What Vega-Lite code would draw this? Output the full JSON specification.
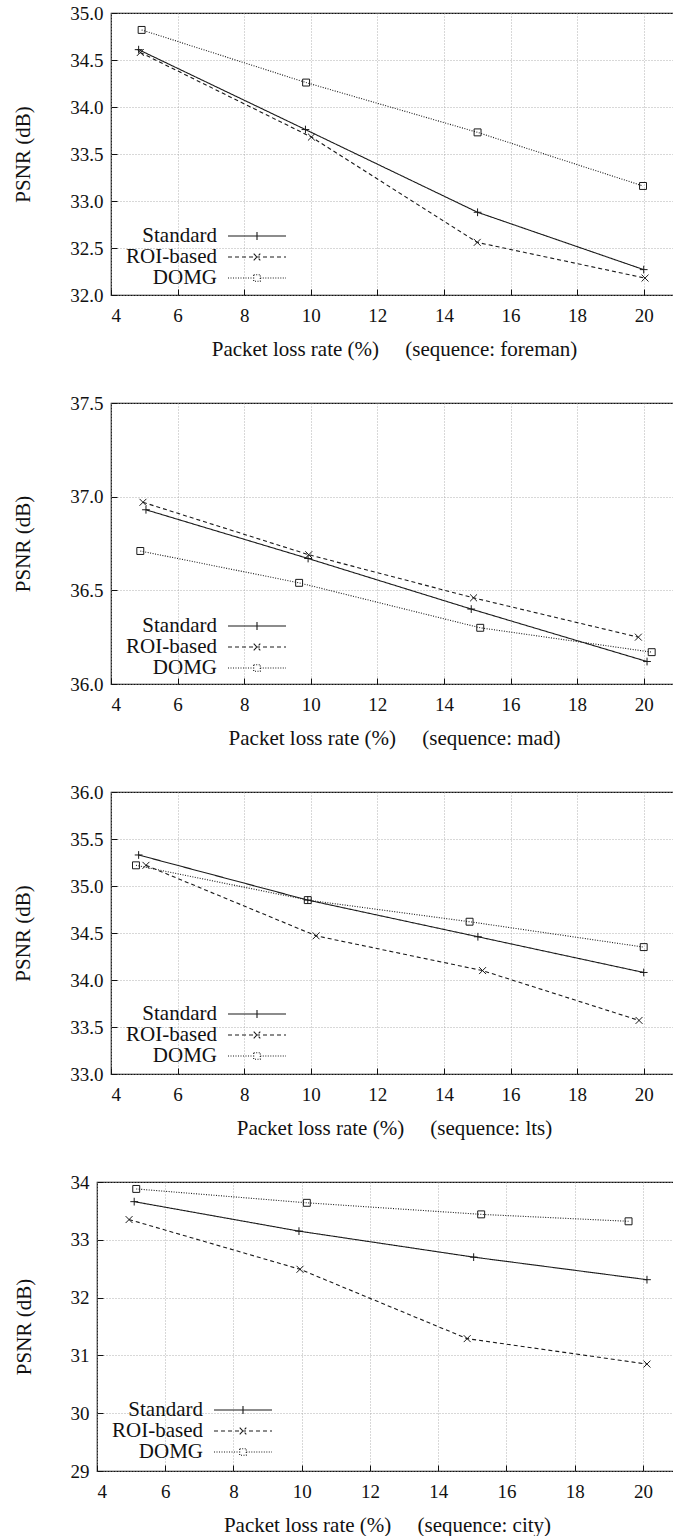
{
  "$schema": "https://vega.github.io/schema/vega-lite/v6.json",
  "padding": {"left": 11, "top": 3, "right": 0, "bottom": 0},
  "background": "white",
  "columns": 2,
  "align": "none",
  "bounds": "full",
  "spacing": {"row": 33, "column": 0},
  "config": {
    "font": "Liberation Serif",
    "view": {"stroke": "#111", "strokeWidth": 1.2},
    "axis": {
      "labelFont": "Liberation Serif", "labelFontSize": 19, "labelColor": "#111",
      "titleFont": "Liberation Serif", "titleFontSize": 21, "titleFontWeight": "normal", "titleColor": "#111",
      "grid": true, "gridColor": "#a8a8a8", "gridDash": [1, 2], "gridWidth": 0.9,
      "domain": false, "ticks": true, "tickSize": -6, "tickColor": "#111", "tickWidth": 1
    },
    "axisX": {"labelPadding": 17, "titlePadding": 13},
    "axisY": {"labelPadding": 14, "titlePadding": 36},
    "legend": {
      "title": null, "orient": "none", "padding": 0,
      "labelFont": "Liberation Serif", "labelFontSize": 21, "labelColor": "#111",
      "labelAlign": "right", "labelOffset": -51, "labelLimit": 200,
      "symbolSize": 400, "symbolOffset": 18, "symbolStrokeWidth": 1.1, "symbolStrokeColor": "#1a1a1a",
      "symbolFillColor": "transparent", "rowPadding": -1
    }
  },
  "datasets": {
    "all": [
      {"seq": "foreman", "method": "Standard", "loss": 4.83, "psnr": 34.61},
      {"seq": "foreman", "method": "Standard", "loss": 9.84, "psnr": 33.76},
      {"seq": "foreman", "method": "Standard", "loss": 15.01, "psnr": 32.88},
      {"seq": "foreman", "method": "Standard", "loss": 20.0, "psnr": 32.27},
      {"seq": "foreman", "method": "ROI-based", "loss": 4.88, "psnr": 34.58},
      {"seq": "foreman", "method": "ROI-based", "loss": 10.02, "psnr": 33.68},
      {"seq": "foreman", "method": "ROI-based", "loss": 15.0, "psnr": 32.56},
      {"seq": "foreman", "method": "ROI-based", "loss": 20.04, "psnr": 32.18},
      {"seq": "foreman", "method": "DOMG", "loss": 4.92, "psnr": 34.82},
      {"seq": "foreman", "method": "DOMG", "loss": 9.86, "psnr": 34.26},
      {"seq": "foreman", "method": "DOMG", "loss": 15.01, "psnr": 33.73},
      {"seq": "foreman", "method": "DOMG", "loss": 19.98, "psnr": 33.16},
      {"seq": "mad", "method": "Standard", "loss": 5.05, "psnr": 36.93},
      {"seq": "mad", "method": "Standard", "loss": 9.92, "psnr": 36.67},
      {"seq": "mad", "method": "Standard", "loss": 14.82, "psnr": 36.40},
      {"seq": "mad", "method": "Standard", "loss": 20.1, "psnr": 36.12},
      {"seq": "mad", "method": "ROI-based", "loss": 4.96, "psnr": 36.97},
      {"seq": "mad", "method": "ROI-based", "loss": 9.94, "psnr": 36.69},
      {"seq": "mad", "method": "ROI-based", "loss": 14.89, "psnr": 36.46},
      {"seq": "mad", "method": "ROI-based", "loss": 19.84, "psnr": 36.25},
      {"seq": "mad", "method": "DOMG", "loss": 4.88, "psnr": 36.71},
      {"seq": "mad", "method": "DOMG", "loss": 9.65, "psnr": 36.54},
      {"seq": "mad", "method": "DOMG", "loss": 15.09, "psnr": 36.30},
      {"seq": "mad", "method": "DOMG", "loss": 20.24, "psnr": 36.17},
      {"seq": "lts", "method": "Standard", "loss": 4.83, "psnr": 35.33},
      {"seq": "lts", "method": "Standard", "loss": 9.91, "psnr": 34.85},
      {"seq": "lts", "method": "Standard", "loss": 15.02, "psnr": 34.46},
      {"seq": "lts", "method": "Standard", "loss": 20.0, "psnr": 34.08},
      {"seq": "lts", "method": "ROI-based", "loss": 5.05, "psnr": 35.22},
      {"seq": "lts", "method": "ROI-based", "loss": 10.16, "psnr": 34.47},
      {"seq": "lts", "method": "ROI-based", "loss": 15.16, "psnr": 34.10},
      {"seq": "lts", "method": "ROI-based", "loss": 19.86, "psnr": 33.57},
      {"seq": "lts", "method": "DOMG", "loss": 4.75, "psnr": 35.22},
      {"seq": "lts", "method": "DOMG", "loss": 9.91, "psnr": 34.85},
      {"seq": "lts", "method": "DOMG", "loss": 14.77, "psnr": 34.62},
      {"seq": "lts", "method": "DOMG", "loss": 20.0, "psnr": 34.35},
      {"seq": "city", "method": "Standard", "loss": 5.09, "psnr": 33.66},
      {"seq": "city", "method": "Standard", "loss": 9.92, "psnr": 33.15},
      {"seq": "city", "method": "Standard", "loss": 15.04, "psnr": 32.70},
      {"seq": "city", "method": "Standard", "loss": 20.12, "psnr": 32.31},
      {"seq": "city", "method": "ROI-based", "loss": 4.94, "psnr": 33.35},
      {"seq": "city", "method": "ROI-based", "loss": 9.95, "psnr": 32.49},
      {"seq": "city", "method": "ROI-based", "loss": 14.85, "psnr": 31.29},
      {"seq": "city", "method": "ROI-based", "loss": 20.12, "psnr": 30.85},
      {"seq": "city", "method": "DOMG", "loss": 5.15, "psnr": 33.88},
      {"seq": "city", "method": "DOMG", "loss": 10.15, "psnr": 33.64},
      {"seq": "city", "method": "DOMG", "loss": 15.26, "psnr": 33.44},
      {"seq": "city", "method": "DOMG", "loss": 19.58, "psnr": 33.32}
    ]
  },
  "concat": [
    {"width": 1, "height": 1, "data": {"values": []}, "mark": "point", "view": {"stroke": null}},
    {
      "width": 566, "height": 282,
      "data": {"name": "all"},
      "transform": [{"filter": "datum.seq === 'foreman'"}],
      "encoding": {
        "x": {"field": "loss", "type": "quantitative", "scale": {"domain": [4, 21], "nice": false, "zero": false},
              "axis": {"values": [4, 6, 8, 10, 12, 14, 16, 18, 20], "format": "d", "title": "Packet loss rate (%)\u00a0\u00a0\u00a0\u00a0\u00a0(sequence: foreman)"}},
        "y": {"field": "psnr", "type": "quantitative", "scale": {"domain": [32, 35], "nice": false, "zero": false},
              "axis": {"values": [32, 32.5, 33, 33.5, 34, 34.5, 35], "format": ".1f", "title": "PSNR (dB)"}}
      },
      "layer": [
        {"mark": {"type": "line", "color": "#1a1a1a", "strokeWidth": 1.1},
         "encoding": {"strokeDash": {"field": "method", "type": "nominal",
           "scale": {"domain": ["Standard", "ROI-based", "DOMG"], "range": [[1, 0], [4, 3], [1, 1.5]]},
           "legend": {"legendX": 117, "legendY": 212,
             "encode": {"symbols": {"update": {"shape": {"signal": "datum.value === 'Standard' ? 'M-2.9,0H2.9M0,-0.4V0.4' : datum.value === 'ROI-based' ? 'M-2.9,0H2.9M-0.33,-0.33L0.33,0.33M-0.33,0.33L0.33,-0.33' : 'M-2.9,0H-0.33M0.33,0H2.9M-0.33,-0.33H0.33V0.33H-0.33Z'"}}}}}}}},
        {"transform": [{"filter": "datum.method === 'Standard'"}],
         "mark": {"type": "point", "shape": "M-1,0H1M0,-1V1", "filled": false, "color": "#1a1a1a", "strokeWidth": 1, "size": 60, "opacity": 1}},
        {"transform": [{"filter": "datum.method === 'ROI-based'"}],
         "mark": {"type": "point", "shape": "M-1,-1L1,1M-1,1L1,-1", "filled": false, "color": "#1a1a1a", "strokeWidth": 1, "size": 48, "opacity": 1}},
        {"transform": [{"filter": "datum.method === 'DOMG'"}],
         "mark": {"type": "point", "shape": "square", "filled": false, "color": "#1a1a1a", "strokeWidth": 1, "size": 48, "opacity": 1}}
      ]
    },
    {"width": 1, "height": 1, "data": {"values": []}, "mark": "point", "view": {"stroke": null}},
    {
      "width": 566, "height": 281,
      "data": {"name": "all"},
      "transform": [{"filter": "datum.seq === 'mad'"}],
      "encoding": {
        "x": {"field": "loss", "type": "quantitative", "scale": {"domain": [4, 21], "nice": false, "zero": false},
              "axis": {"values": [4, 6, 8, 10, 12, 14, 16, 18, 20], "format": "d", "title": "Packet loss rate (%)\u00a0\u00a0\u00a0\u00a0\u00a0(sequence: mad)"}},
        "y": {"field": "psnr", "type": "quantitative", "scale": {"domain": [36, 37.5], "nice": false, "zero": false},
              "axis": {"values": [36, 36.5, 37, 37.5], "format": ".1f", "title": "PSNR (dB)"}}
      },
      "layer": [
        {"mark": {"type": "line", "color": "#1a1a1a", "strokeWidth": 1.1},
         "encoding": {"strokeDash": {"field": "method", "type": "nominal",
           "scale": {"domain": ["Standard", "ROI-based", "DOMG"], "range": [[1, 0], [4, 3], [1, 1.5]]},
           "legend": {"legendX": 117, "legendY": 212,
             "encode": {"symbols": {"update": {"shape": {"signal": "datum.value === 'Standard' ? 'M-2.9,0H2.9M0,-0.4V0.4' : datum.value === 'ROI-based' ? 'M-2.9,0H2.9M-0.33,-0.33L0.33,0.33M-0.33,0.33L0.33,-0.33' : 'M-2.9,0H-0.33M0.33,0H2.9M-0.33,-0.33H0.33V0.33H-0.33Z'"}}}}}}}},
        {"transform": [{"filter": "datum.method === 'Standard'"}],
         "mark": {"type": "point", "shape": "M-1,0H1M0,-1V1", "filled": false, "color": "#1a1a1a", "strokeWidth": 1, "size": 60, "opacity": 1}},
        {"transform": [{"filter": "datum.method === 'ROI-based'"}],
         "mark": {"type": "point", "shape": "M-1,-1L1,1M-1,1L1,-1", "filled": false, "color": "#1a1a1a", "strokeWidth": 1, "size": 48, "opacity": 1}},
        {"transform": [{"filter": "datum.method === 'DOMG'"}],
         "mark": {"type": "point", "shape": "square", "filled": false, "color": "#1a1a1a", "strokeWidth": 1, "size": 48, "opacity": 1}}
      ]
    },
    {"width": 1, "height": 1, "data": {"values": []}, "mark": "point", "view": {"stroke": null}},
    {
      "width": 566, "height": 282,
      "data": {"name": "all"},
      "transform": [{"filter": "datum.seq === 'lts'"}],
      "encoding": {
        "x": {"field": "loss", "type": "quantitative", "scale": {"domain": [4, 21], "nice": false, "zero": false},
              "axis": {"values": [4, 6, 8, 10, 12, 14, 16, 18, 20], "format": "d", "title": "Packet loss rate (%)\u00a0\u00a0\u00a0\u00a0\u00a0(sequence: lts)"}},
        "y": {"field": "psnr", "type": "quantitative", "scale": {"domain": [33, 36], "nice": false, "zero": false},
              "axis": {"values": [33, 33.5, 34, 34.5, 35, 35.5, 36], "format": ".1f", "title": "PSNR (dB)"}}
      },
      "layer": [
        {"mark": {"type": "line", "color": "#1a1a1a", "strokeWidth": 1.1},
         "encoding": {"strokeDash": {"field": "method", "type": "nominal",
           "scale": {"domain": ["Standard", "ROI-based", "DOMG"], "range": [[1, 0], [4, 3], [1, 1.5]]},
           "legend": {"legendX": 117, "legendY": 211,
             "encode": {"symbols": {"update": {"shape": {"signal": "datum.value === 'Standard' ? 'M-2.9,0H2.9M0,-0.4V0.4' : datum.value === 'ROI-based' ? 'M-2.9,0H2.9M-0.33,-0.33L0.33,0.33M-0.33,0.33L0.33,-0.33' : 'M-2.9,0H-0.33M0.33,0H2.9M-0.33,-0.33H0.33V0.33H-0.33Z'"}}}}}}}},
        {"transform": [{"filter": "datum.method === 'Standard'"}],
         "mark": {"type": "point", "shape": "M-1,0H1M0,-1V1", "filled": false, "color": "#1a1a1a", "strokeWidth": 1, "size": 60, "opacity": 1}},
        {"transform": [{"filter": "datum.method === 'ROI-based'"}],
         "mark": {"type": "point", "shape": "M-1,-1L1,1M-1,1L1,-1", "filled": false, "color": "#1a1a1a", "strokeWidth": 1, "size": 48, "opacity": 1}},
        {"transform": [{"filter": "datum.method === 'DOMG'"}],
         "mark": {"type": "point", "shape": "square", "filled": false, "color": "#1a1a1a", "strokeWidth": 1, "size": 48, "opacity": 1}}
      ]
    },
    {"width": 1, "height": 1, "data": {"values": []}, "mark": "point", "view": {"stroke": null}},
    {
      "width": 580, "height": 289,
      "data": {"name": "all"},
      "transform": [{"filter": "datum.seq === 'city'"}],
      "encoding": {
        "x": {"field": "loss", "type": "quantitative", "scale": {"domain": [4, 21], "nice": false, "zero": false},
              "axis": {"values": [4, 6, 8, 10, 12, 14, 16, 18, 20], "format": "d", "title": "Packet loss rate (%)\u00a0\u00a0\u00a0\u00a0\u00a0(sequence: city)"}},
        "y": {"field": "psnr", "type": "quantitative", "scale": {"domain": [29, 34], "nice": false, "zero": false},
              "axis": {"values": [29, 30, 31, 32, 33, 34], "format": "d", "title": "PSNR (dB)"}}
      },
      "layer": [
        {"mark": {"type": "line", "color": "#1a1a1a", "strokeWidth": 1.1},
         "encoding": {"strokeDash": {"field": "method", "type": "nominal",
           "scale": {"domain": ["Standard", "ROI-based", "DOMG"], "range": [[1, 0], [4, 3], [1, 1.5]]},
           "legend": {"legendX": 117, "legendY": 217,
             "encode": {"symbols": {"update": {"shape": {"signal": "datum.value === 'Standard' ? 'M-2.9,0H2.9M0,-0.4V0.4' : datum.value === 'ROI-based' ? 'M-2.9,0H2.9M-0.33,-0.33L0.33,0.33M-0.33,0.33L0.33,-0.33' : 'M-2.9,0H-0.33M0.33,0H2.9M-0.33,-0.33H0.33V0.33H-0.33Z'"}}}}}}}},
        {"transform": [{"filter": "datum.method === 'Standard'"}],
         "mark": {"type": "point", "shape": "M-1,0H1M0,-1V1", "filled": false, "color": "#1a1a1a", "strokeWidth": 1, "size": 60, "opacity": 1}},
        {"transform": [{"filter": "datum.method === 'ROI-based'"}],
         "mark": {"type": "point", "shape": "M-1,-1L1,1M-1,1L1,-1", "filled": false, "color": "#1a1a1a", "strokeWidth": 1, "size": 48, "opacity": 1}},
        {"transform": [{"filter": "datum.method === 'DOMG'"}],
         "mark": {"type": "point", "shape": "square", "filled": false, "color": "#1a1a1a", "strokeWidth": 1, "size": 48, "opacity": 1}}
      ]
    }
  ],
  "resolve": {
    "scale": {"strokeDash": "independent"},
    "legend": {"strokeDash": "independent"}
  }
}
